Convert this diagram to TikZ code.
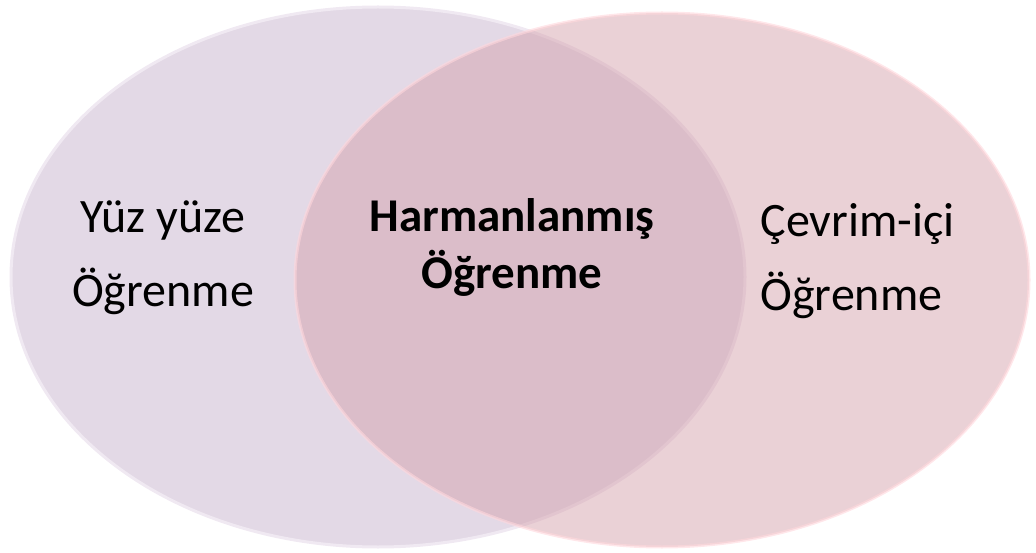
\documentclass[tikz,border=0pt]{standalone}
\usepackage{fontspec}
\setmainfont{Carlito}
\usetikzlibrary{shapes.geometric}

\definecolor{faceclr}{RGB}{227,217,230}
\definecolor{faceline}{RGB}{240,233,242}
\definecolor{onlineclr}{RGB}{213,163,173}
\definecolor{onlineline}{RGB}{255,215,220}

\tikzset{
  circlebox/.style={ellipse, minimum width=734pt, minimum height=540pt, line width=3pt},
  label/.style={font=\fontsize{48}{74}\selectfont},
  midlabel/.style={align=center, font=\fontsize{47}{57}\selectfont\bfseries}
}

\begin{document}
\begin{tikzpicture}[x=1pt,y=-1pt]
    \useasboundingbox (0,0) rectangle (1036,553);
    % Circles
    \node[circlebox, fill=faceclr, draw=faceline] (face) at (378,277) {};
    \node[circlebox, fill=onlineclr, fill opacity=0.5, draw=onlineline, draw opacity=0.6, minimum height=534pt] (online) at (662,280) {};

    % Labels
    \node[label, align=center] (facetext) at (163,258) {Yüz yüze\\Öğrenme};
    \node[label, align=left, anchor=west] (onlinetext) at (757,261) {Çevrim-içi\\Öğrenme};
    \node[midlabel] (blendtext) at (512,247) {Harmanlanmış\\Öğrenme};
\end{tikzpicture}
\end{document}
